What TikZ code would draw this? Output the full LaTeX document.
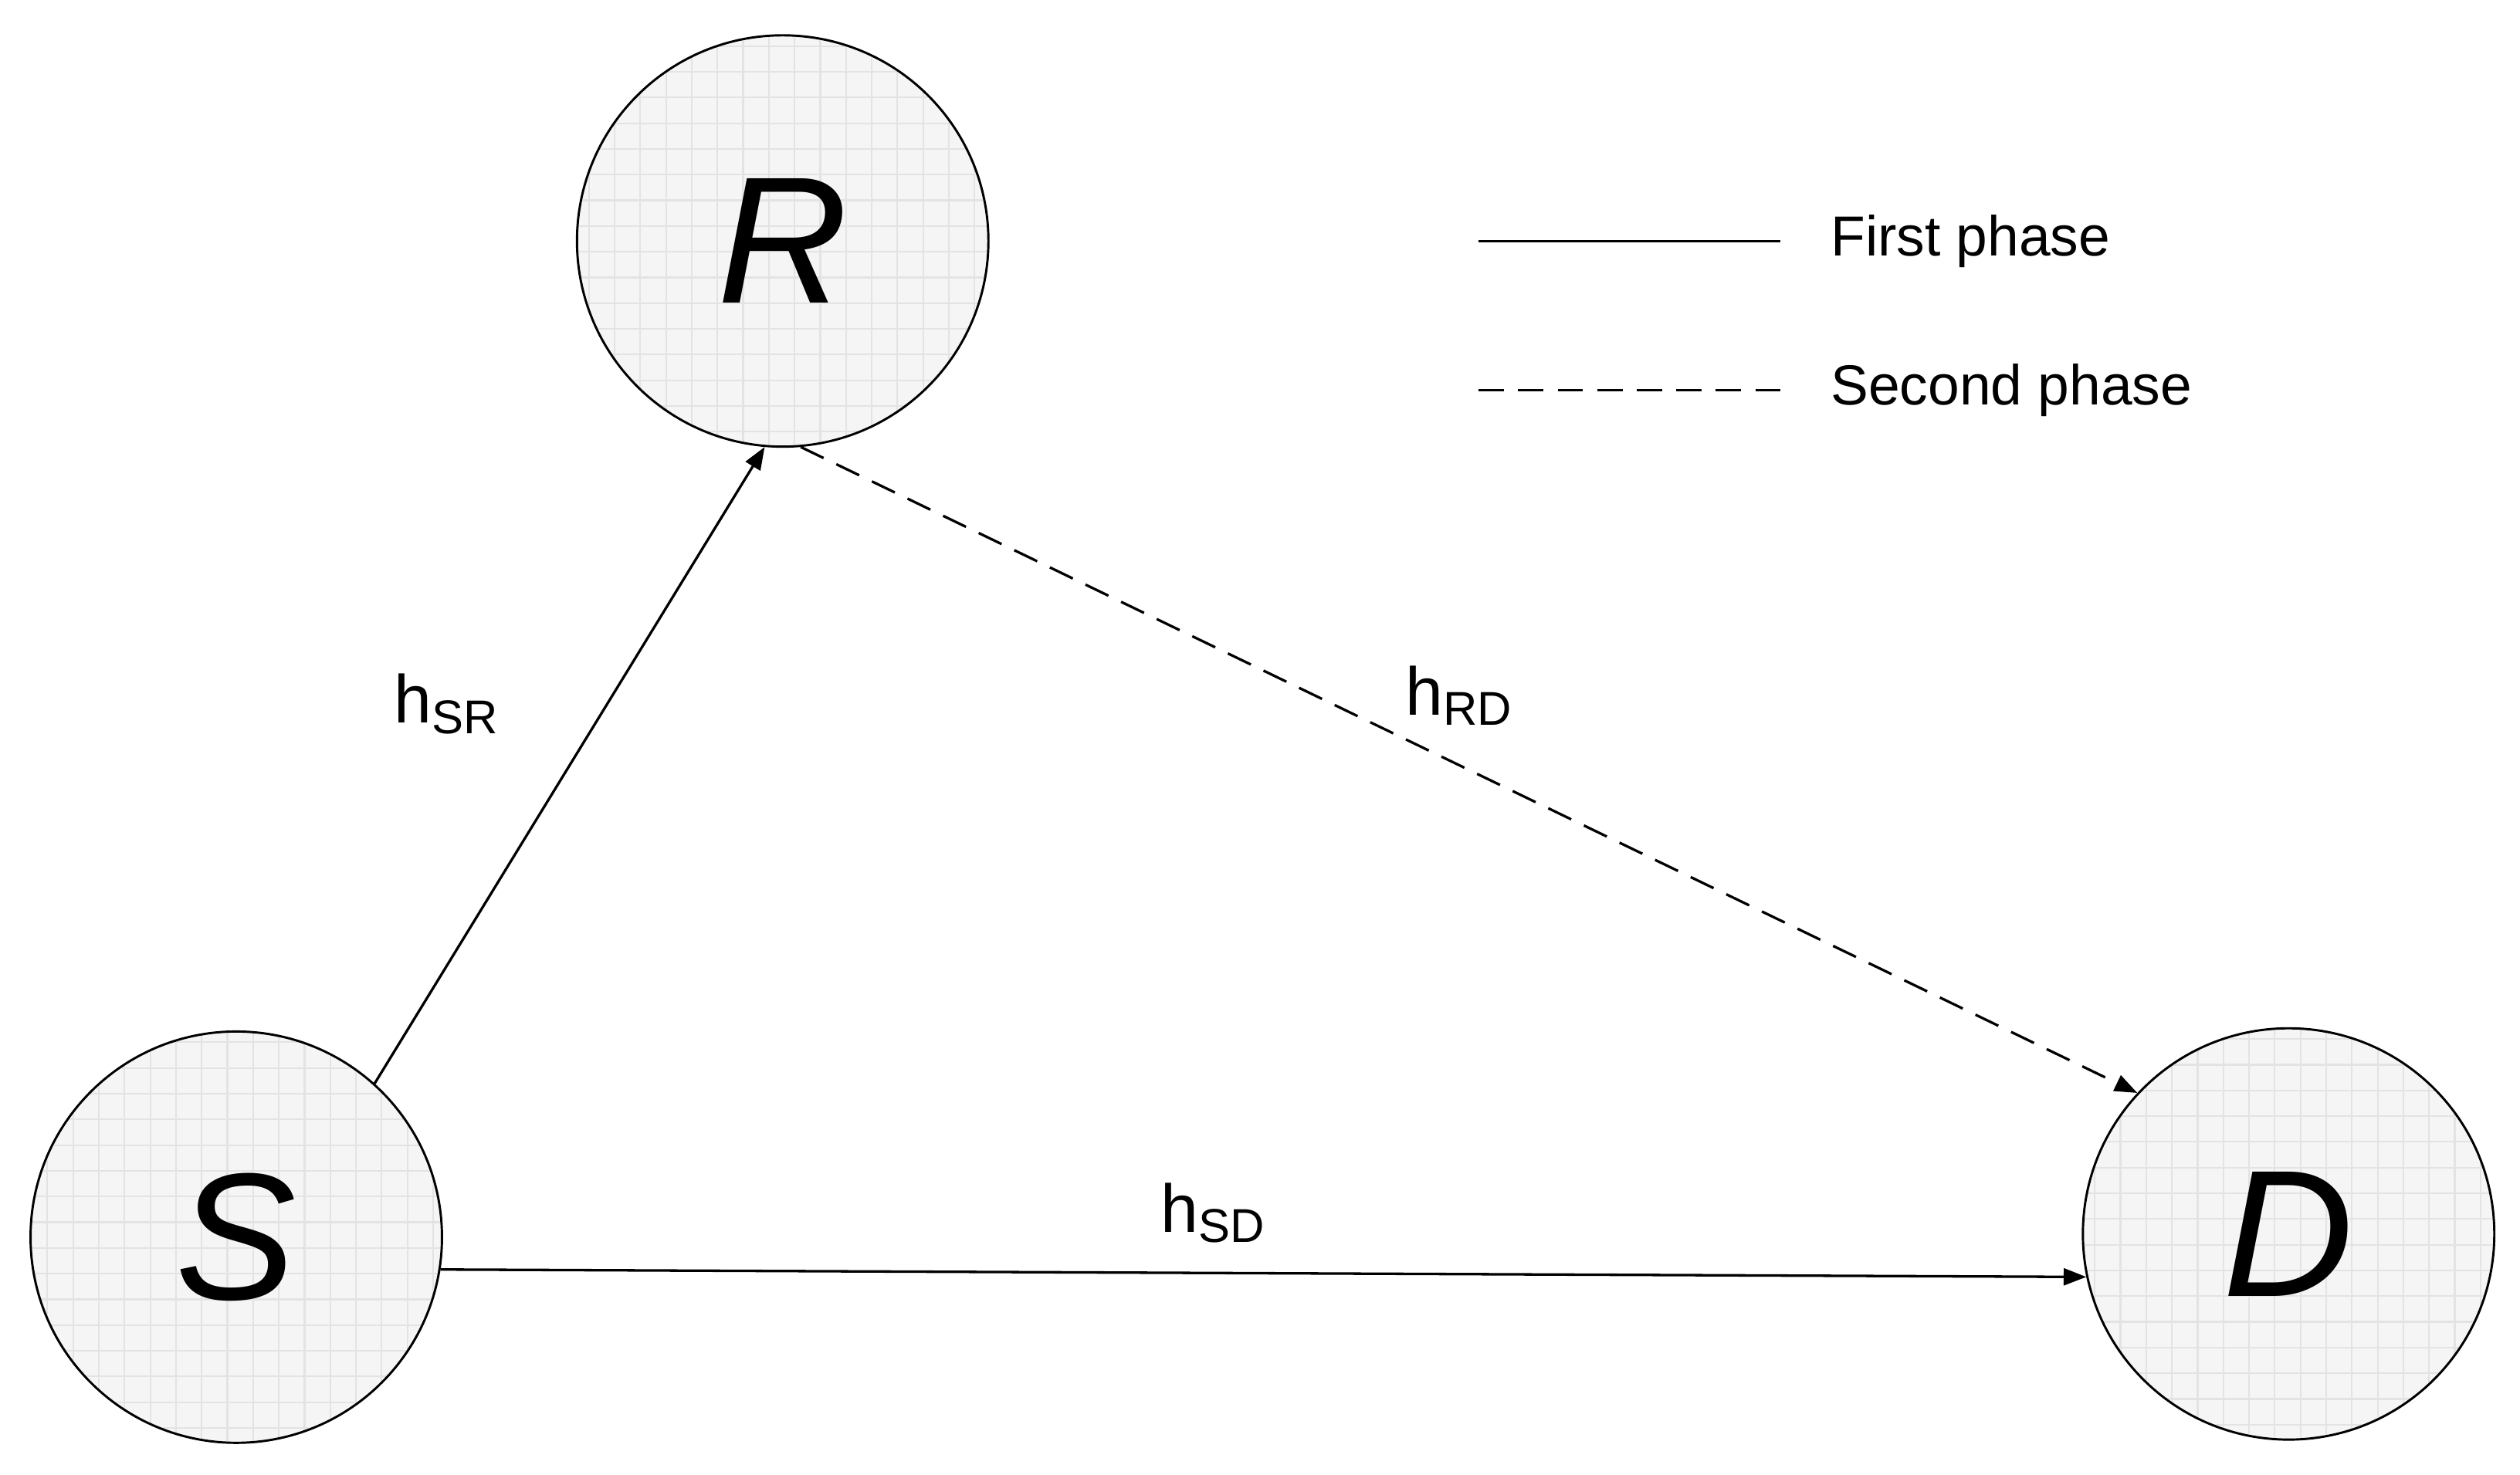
\documentclass[tikz,border=0pt]{standalone}
\usepackage{fontspec}
\setmainfont{Liberation Sans}
\usetikzlibrary{positioning,arrows.meta,calc}
\tikzset{
  station/.style={circle,draw,thick,minimum size=5.12cm,fill=gray!8,inner sep=0pt,
    font=\fontsize{64}{70}\selectfont\itshape,
    path picture={\draw[gray!22,line width=0.6pt] (path picture bounding box.south west) grid[step=0.32] (path picture bounding box.north east);}},
  link/.style={line width=0.9pt,-{Triangle[length=8pt,width=6pt]}},
  chan/.style={font=\fontsize{24}{28}\selectfont}
}
\newcommand{\hch}[1]{h\textsubscript{#1}}
\begin{document}
\begin{tikzpicture}
  \useasboundingbox (0,0) rectangle (31.36,18.36);
  % stations
  \node[station] (R) at (9.74,15.36) {R};
  \node[station] (S) at (2.94,2.96) {S};
  \node[station] (D) at (28.48,3.0) {D};
  % links
  \draw[link] (S.48) -- (R.-95);
  \draw[link] (S.-9) -- (D.192);
  \draw[link,dashed,dash pattern=on 9pt off 5pt] (R.-85) -- (D.137);
  \node[chan] (hsr) at (5.56,9.6) {\hch{SR}};
  \node[chan] (hrd) at (18.16,9.7) {\hch{RD}};
  \node[chan] (hsd) at (15.1,3.26) {\hch{SD}};
  % legend
  \coordinate (l1a) at (18.4,15.36);
  \coordinate (l1b) at (22.16,15.36);
  \coordinate (l2a) at (18.4,13.5);
  \coordinate (l2b) at (22.16,13.5);
  \draw[line width=0.9pt] (l1a) -- (l1b);
  \draw[line width=0.9pt,dash pattern=on 9pt off 5pt] (l2a) -- (l2b);
  \node[right=0.5cm of l1b,font=\fontsize{20}{24}\selectfont] (first) {First phase};
  \node[right=0.5cm of l2b,font=\fontsize{20}{24}\selectfont] (second) {Second phase};
\end{tikzpicture}
\end{document}
